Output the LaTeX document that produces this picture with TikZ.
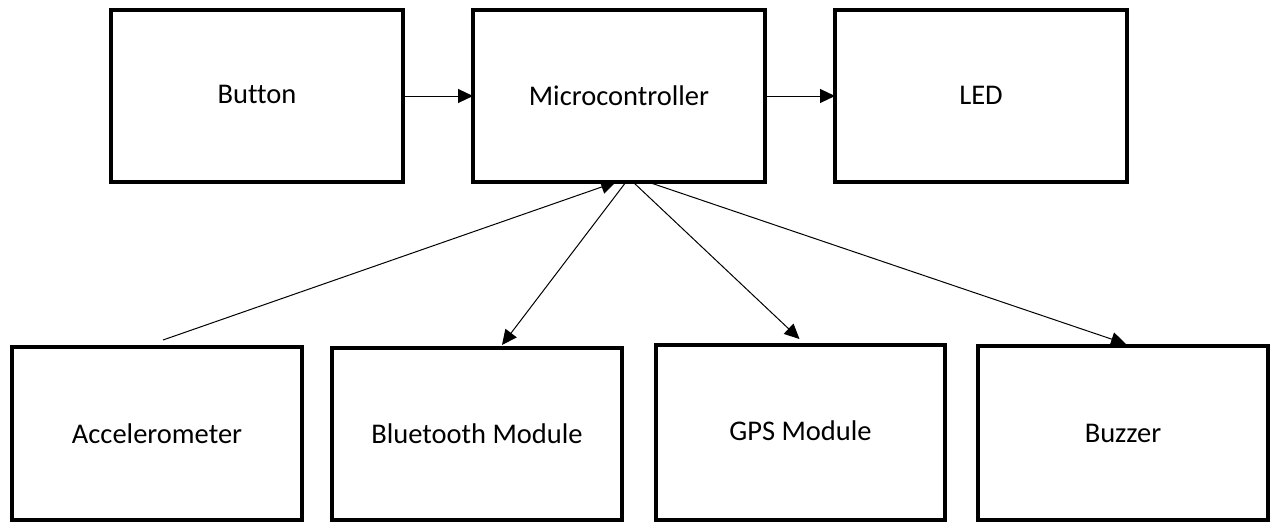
\documentclass[tikz,border=0pt]{standalone}
\usepackage{fontspec}
\setmainfont{Carlito}[Ligatures=NoCommon]
\usetikzlibrary{arrows.meta,calc}
\tikzset{
  blockbox/.style={draw=black,line width=3.3pt,outer sep=0pt,inner sep=0pt,
    font=\fontsize{28.5}{33}\selectfont,align=center},
  conn/.style={line width=1pt,-{Triangle[length=15pt,width=14pt]}},
}
\begin{document}
\begin{tikzpicture}[x=1pt,y=-1pt]
\useasboundingbox (0,0) rectangle (1270,522);
% top row
\node[blockbox,minimum width=292pt,minimum height=172pt] (btn) at (257,96) {\raisebox{4pt}{Button}};
\node[blockbox,minimum width=292pt,minimum height=172pt] (mc) at (619,96) {Microcontroller};
\node[blockbox,minimum width=292pt,minimum height=172pt] (led) at (981,96) {\raisebox{1pt}{LED}};
% bottom row
\node[blockbox,minimum width=290pt,minimum height=173pt] (acc) at (157,433.5) {Accelerometer};
\node[blockbox,minimum width=290pt,minimum height=172pt] (bt) at (477,434) {Bluetooth Module};
\node[blockbox,minimum width=289pt,minimum height=175pt] (gps) at (800.5,432.5) {\raisebox{3pt}{GPS Module}};
\node[blockbox,minimum width=290pt,minimum height=174pt] (buz) at (1123,433) {Buzzer};
% connectors
\draw[conn] (btn.east) -- (mc.west);
\draw[conn] (mc.east) -- (led.west);
\coordinate (accs) at ($(acc.north)+(6,-7)$);
\draw[conn] (accs) -- ($(mc.south)+(-3,0)$);
\draw[conn] ($(mc.south)+(7,0)$) -- ($(bt.north)+(25,-3)$);
\draw[conn] ($(mc.south)+(14,0)$) -- ($(gps.north)+(-1,-6)$);
\draw[conn] ($(mc.south)+(29,0)$) -- ($(buz.north)+(3,-2)$);
\end{tikzpicture}
\end{document}
